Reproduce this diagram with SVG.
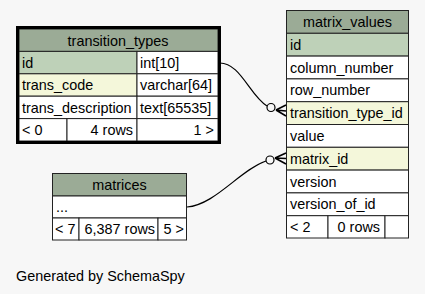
<svg xmlns="http://www.w3.org/2000/svg" width="425" height="294" viewBox="0 0 425 294">
  <style>
    text { font-family: "Liberation Sans", Arial, sans-serif; font-size: 14.4px; fill: #000; }
    .mid { text-anchor: middle; }
    .end { text-anchor: end; }
    .cell { stroke: #222; stroke-width: 1; }
    .head { fill: #9bab96; }
    .pk { fill: #bed1b8; }
    .fk { fill: #f4f7da; }
    .plain { fill: #ffffff; }
    .edge { fill: none; stroke: #000; stroke-width: 1.2; }
    .crow { fill: none; stroke: #000; stroke-width: 1.6; }
  </style>
  <rect width="425" height="294" fill="#f7f7f7"/>

  <!-- transition_types (focused table, heavy outline) -->
  <g id="transition_types">
    <rect class="cell head" x="19" y="29" width="199" height="22.4"/>
    <rect class="cell pk" x="19" y="51.4" width="118" height="22.4"/>
    <rect class="cell plain" x="137" y="51.4" width="81" height="22.4"/>
    <rect class="cell fk" x="19" y="73.8" width="118" height="22.4"/>
    <rect class="cell plain" x="137" y="73.8" width="81" height="22.4"/>
    <rect class="cell plain" x="19" y="96.2" width="118" height="22.4"/>
    <rect class="cell plain" x="137" y="96.2" width="81" height="22.4"/>
    <rect class="cell plain" x="19" y="118.6" width="48" height="22.4"/>
    <rect class="cell plain" x="67" y="118.6" width="70" height="22.4"/>
    <rect class="cell plain" x="137" y="118.6" width="81" height="22.4"/>
    <rect x="17.5" y="27.5" width="202" height="115" fill="none" stroke="#000" stroke-width="3"/>
    <text class="mid" x="118" y="45.5">transition_types</text>
    <text x="22" y="67.8">id</text>
    <text x="140" y="67.8">int[10]</text>
    <text x="22" y="90.2">trans_code</text>
    <text x="140" y="90.2">varchar[64]</text>
    <text x="22" y="112.6">trans_description</text>
    <text x="140" y="112.6">text[65535]</text>
    <text x="22" y="135">&lt; 0</text>
    <text class="end" x="133" y="135">4 rows</text>
    <text class="end" x="214" y="135">1 &gt;</text>
  </g>

  <!-- matrix_values -->
  <g id="matrix_values">
    <rect class="cell head" x="286.5" y="10.5" width="122" height="22.8"/>
    <rect class="cell pk" x="286.5" y="33.3" width="122" height="22.8"/>
    <rect class="cell plain" x="286.5" y="56.1" width="122" height="22.8"/>
    <rect class="cell plain" x="286.5" y="78.9" width="122" height="22.8"/>
    <rect class="cell fk" x="286.5" y="101.7" width="122" height="22.8"/>
    <rect class="cell plain" x="286.5" y="124.5" width="122" height="22.8"/>
    <rect class="cell fk" x="286.5" y="147.3" width="122" height="22.8"/>
    <rect class="cell plain" x="286.5" y="170.1" width="122" height="22.8"/>
    <rect class="cell plain" x="286.5" y="192.9" width="122" height="22.8"/>
    <rect class="cell plain" x="286.5" y="215.7" width="41.5" height="22.3"/>
    <rect class="cell plain" x="328" y="215.7" width="57" height="22.3"/>
    <rect class="cell plain" x="385" y="215.7" width="23.5" height="22.3"/>
    <text class="mid" x="347.5" y="27">matrix_values</text>
    <text x="290" y="49.8">id</text>
    <text x="290" y="72.6">column_number</text>
    <text x="290" y="95.4">row_number</text>
    <text x="290" y="118.2">transition_type_id</text>
    <text x="290" y="141">value</text>
    <text x="290" y="163.8">matrix_id</text>
    <text x="290" y="186.6">version</text>
    <text x="290" y="209.4">version_of_id</text>
    <text x="290" y="232">&lt; 2</text>
    <text class="end" x="380" y="232">0 rows</text>
  </g>

  <!-- matrices -->
  <g id="matrices">
    <rect class="cell head" x="52.5" y="173.5" width="134" height="22.5"/>
    <rect class="cell plain" x="52.5" y="196" width="134" height="22"/>
    <rect class="cell plain" x="52.5" y="218" width="26.5" height="22"/>
    <rect class="cell plain" x="79" y="218" width="79" height="22"/>
    <rect class="cell plain" x="158" y="218" width="28.5" height="22"/>
    <text class="mid" x="119.5" y="190">matrices</text>
    <text x="56" y="212">...</text>
    <text x="55" y="234">&lt; 7</text>
    <text class="end" x="155" y="234">6,387 rows</text>
    <text class="end" x="184" y="234">5 &gt;</text>
  </g>

  <!-- foreign key connectors: many (crow + odot) at the child side -->
  <g id="connectors">
    <path class="edge" d="M219,63 C240,62 250,96 267,106"/>
    <circle class="edge" cx="271" cy="107.5" r="4"/>
    <path class="crow" d="M276,110 L286,105 M276,110 L286,111 M276,110 L286,116"/>

    <path class="edge" d="M187,207 C215,205 240,170 266,161"/>
    <circle class="edge" cx="270" cy="160" r="4"/>
    <path class="crow" d="M275,158 L286,153 M275,158 L286,158.5 M275,158 L286,164"/>
  </g>

  <text x="16" y="281">Generated by SchemaSpy</text>
</svg>
